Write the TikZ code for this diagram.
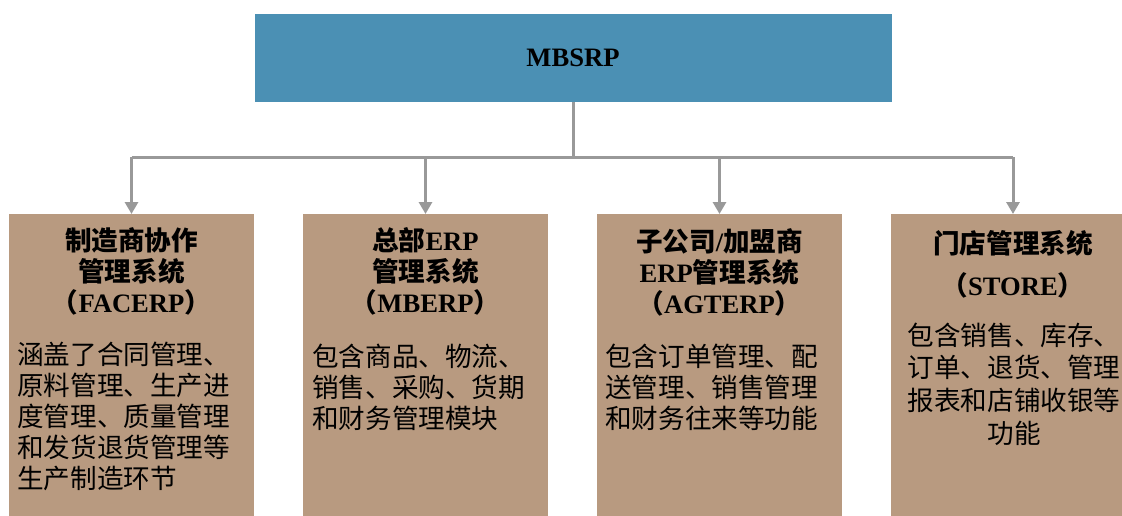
\documentclass[tikz,border=0pt]{standalone}
\usepackage{fontspec}
\setmainfont{Liberation Serif}
\newfontfamily\cjk{Noto Sans CJK SC}
\usetikzlibrary{arrows.meta}
\definecolor{topblue}{RGB}{75,144,180}
\definecolor{tan}{RGB}{184,154,128}
\definecolor{linegray}{RGB}{153,153,153}
\tikzset{
  topbox/.style={draw=none,fill=topblue,minimum width=637pt,minimum height=88pt,inner sep=0pt,
    font=\fontsize{26.6}{31}\selectfont\bfseries},
  subbox/.style={draw=none,fill=tan,minimum width=245pt,minimum height=320pt,inner sep=0pt,anchor=north},
  titletext/.style={align=center,inner sep=0pt,anchor=base,font=\fontsize{26.6}{31}\selectfont\bfseries},
  bodytext/.style={align=left,inner sep=0pt,anchor=base west,font=\fontsize{26.6}{31}\selectfont\cjk},
  bodytextc/.style={align=center,inner sep=0pt,anchor=base,font=\fontsize{26.6}{32.6}\selectfont\cjk},
  conn/.style={draw=linegray,line width=3pt},
  arr/.style={conn,-{Triangle[width=13pt,length=12pt]}}
}
\begin{document}
\begin{tikzpicture}[x=1pt,y=-1pt]
\useasboundingbox (0,0) rectangle (1122,515);
\clip (0,0) rectangle (1122,515);
\node[topbox] (top) at (573,57.5) {MBSRP};
\node[subbox] (b1) at (131.5,214) {};
\node[subbox] (b2) at (425.5,214) {};
\node[subbox] (b3) at (719.5,214) {};
\node[subbox] (b4) at (1013,214) {};
\coordinate (j) at (573,157);
\draw[conn] (top.south) -- (j);
\draw[conn] (b1.north |- j) -- (b4.north |- j);
\draw[arr] (b1.north |- j) -- (b1.north);
\draw[arr] (b2.north |- j) -- (b2.north);
\draw[arr] (b3.north |- j) -- (b3.north);
\draw[arr] (b4.north |- j) -- (b4.north);
% titles (base anchor = baseline of the last line)
\node[titletext] (t1) at (131.5,312) {{\cjk 制造商协作}\\{\cjk 管理系统}\\{\cjk （}FACERP{\cjk ）}};
\node[titletext] (t2) at (425.5,312) {{\cjk 总部}ERP\\{\cjk 管理系统}\\{\cjk （}MBERP{\cjk ）}};
\node[titletext] (t3) at (719.5,313) {{\cjk 子公司}/{\cjk 加盟商}\\ERP{\cjk 管理系统}\\{\cjk （}AGTERP{\cjk ）}};
\node[titletext] (t4) at (1013,295) {{\cjk 门店管理系统}\\[11pt]{\cjk （}STORE{\cjk ）}};
% bodies
\node[bodytext] (d1) at (17,488) {涵盖了合同管理、\\原料管理、生产进\\度管理、质量管理\\和发货退货管理等\\生产制造环节};
\node[bodytext] (d2) at (312,428) {包含商品、物流、\\销售、采购、货期\\和财务管理模块};
\node[bodytext] (d3) at (605,428) {包含订单管理、配\\送管理、销售管理\\和财务往来等功能};
\node[bodytextc] (d4) at (1014,443) {包含销售、库存、\\订单、退货、管理\\报表和店铺收银等\\功能};
\end{tikzpicture}
\end{document}
